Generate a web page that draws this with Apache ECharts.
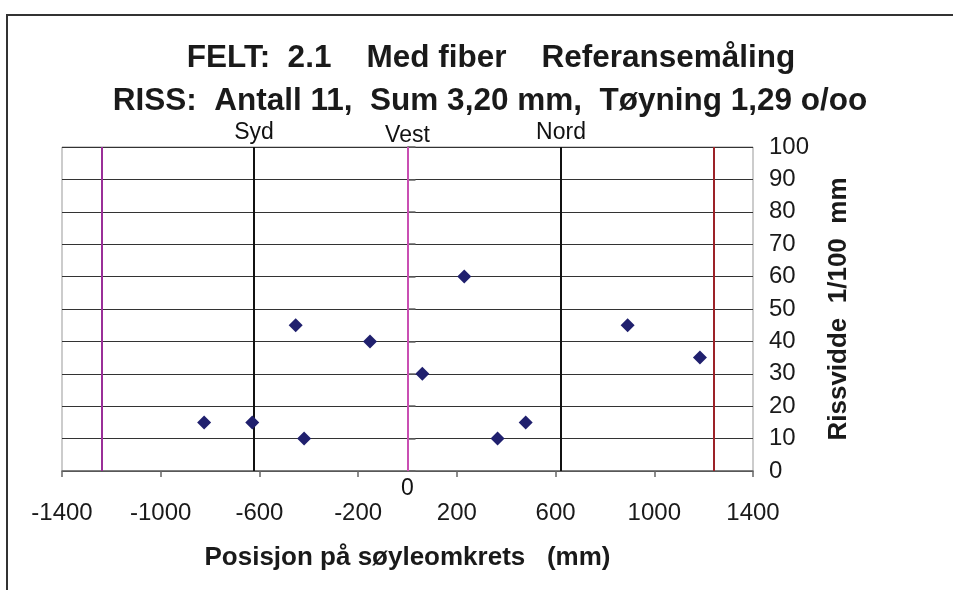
<!DOCTYPE html>
<html>
<head>
<meta charset="utf-8">
<script src="https://cdn.jsdelivr.net/npm/echarts@6/dist/echarts.min.js"></script>
<style>html,body{margin:0;padding:0;background:#fff;}#c{width:953px;height:590px;}</style>
</head>
<body>
<div id="c"></div>
<script>
// Data
const titleLine1 = 'FELT:  2.1    Med fiber    Referansemåling';
const titleLine2 = 'RISS:  Antall 11,  Sum 3,20 mm,  Tøyning 1,29 o/oo';
const xAxisTitle = 'Posisjon på søyleomkrets   (mm)';
const yAxisTitle = 'Rissvidde  1/100  mm';
const crackPos = [-824, -629, -453, -419, -152, 60, 230, 365, 479, 892, 1185];
const crackWidth = [15, 15, 45, 10, 40, 30, 60, 10, 15, 45, 35];
const refPos = [-1240, -622, 0, 622, 1240];
const refNames = ['', 'Syd', 'Vest', 'Nord', ''];
const zeroLabelPos = 0;
const zeroLabel = '0';

// Styles
const refColors = ['#9a2f98', '#111111', '#c94fb3', '#111111', '#9c2228'];
const refLabelDist = [3, 3, 0, 3, 3];

const chart = echarts.init(document.getElementById('c'), null, {renderer: 'canvas'});
const FONT = 'Liberation Sans, Arial, sans-serif';

const mlData = refPos.map((v, i) => ({
  xAxis: v,
  lineStyle: {color: refColors[i], width: 2, type: 'solid'},
  label: {show: !!refNames[i], formatter: refNames[i], position: 'end', distance: refLabelDist[i],
          color: '#111', fontSize: 23, fontFamily: FONT}
}));
mlData.push({
  xAxis: zeroLabelPos,
  lineStyle: {color: refColors[2], width: 2, type: 'solid'},
  label: {show: true, formatter: zeroLabel, position: 'start', distance: 6,
          color: '#111', fontSize: 23, fontFamily: FONT}
});

chart.setOption({
  animation: false,
  backgroundColor: '#fff',
  graphic: [
    {type: 'rect', shape: {x: 7, y: 15, width: 1000, height: 700},
     style: {fill: 'none', stroke: '#333', lineWidth: 2}, z: 0},
    {type: 'text', x: 491, y: 58, style: {text: titleLine1, textAlign: 'center', textVerticalAlign: 'middle',
      font: 'bold 31.5px ' + FONT, fill: '#1a1a1a'}},
    {type: 'text', x: 490, y: 101, style: {text: titleLine2, textAlign: 'center', textVerticalAlign: 'middle',
      font: 'bold 31.5px ' + FONT, fill: '#1a1a1a'}}
  ],
  grid: {left: 62, right: 200, top: 147, bottom: 119, show: true, borderColor: '#999', borderWidth: 1},
  xAxis: {
    type: 'value', min: -1400, max: 1400, interval: 400,
    name: xAxisTitle, nameLocation: 'middle', nameGap: 74,
    nameTextStyle: {fontSize: 26, fontWeight: 'bold', color: '#1a1a1a', fontFamily: FONT},
    axisLine: {show: true, onZero: false, lineStyle: {color: '#666', width: 1.5}},
    axisTick: {show: true, length: 6, lineStyle: {color: '#666', width: 1.5}},
    axisLabel: {margin: 30, fontSize: 24, color: '#1a1a1a', fontFamily: FONT,
                formatter: v => String(v)},
    splitLine: {show: false}
  },
  yAxis: {
    type: 'value', position: 'right', min: 0, max: 100, interval: 10,
    name: yAxisTitle, nameLocation: 'middle', nameGap: 73, nameRotate: 90,
    nameTextStyle: {fontSize: 26, fontWeight: 'bold', color: '#1a1a1a', fontFamily: FONT},
    axisLine: {show: true, lineStyle: {color: '#666', width: 1.5}},
    axisTick: {show: true, length: 8, lineStyle: {color: '#666', width: 1.5}},
    axisLabel: {margin: 16, fontSize: 24, color: '#1a1a1a', fontFamily: FONT,
                formatter: v => String(v)},
    splitLine: {show: true, lineStyle: {color: '#333', width: 1.2}}
  },
  series: [{
    type: 'scatter',
    data: crackPos.map((x, i) => [x, crackWidth[i]]),
    symbol: 'diamond', symbolSize: 14,
    itemStyle: {color: '#20206e', opacity: 1},
    z: 5,
    markLine: {silent: true, symbol: ['none', 'none'], data: mlData, z: 3}
  }]
});
</script>
</body>
</html>
